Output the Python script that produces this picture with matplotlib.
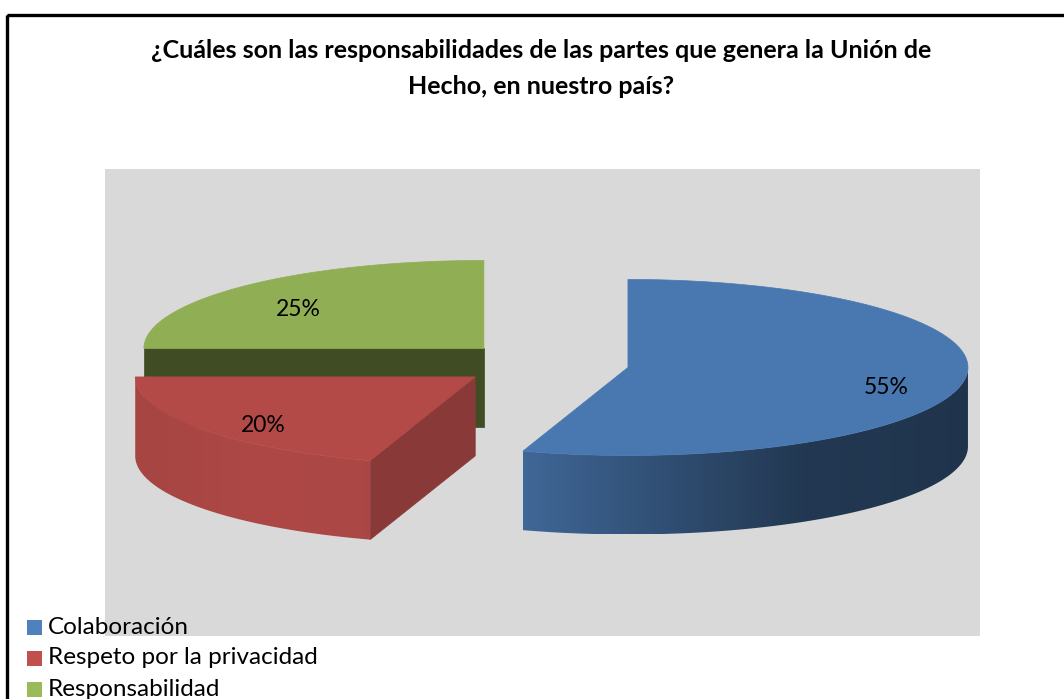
import numpy as np
import matplotlib
matplotlib.use('Agg')
import matplotlib.pyplot as plt
from matplotlib.patches import Polygon, Rectangle
import matplotlib.colors as mc

# ---------------- data ----------------
categories = ['Colaboración', 'Respeto por la privacidad', 'Responsabilidad']
values = [55, 20, 25]
labels = ['55%', '20%', '25%']
base_colors = ['#4F81BD', '#C0504D', '#9BBB59']
title = '¿Cuáles son las responsabilidades de las partes que genera la Unión de\nHecho, en nuestro país?'

plt.rcParams['font.family'] = ['Lato', 'DejaVu Sans']

W, H = 1064, 699
fig = plt.figure(figsize=(W / 100, H / 100), dpi=100)
ax = fig.add_axes([0, 0, 1, 1])
ax.axis('off')

# outer frame (extends beyond the image on right/bottom)
ax.add_patch(Rectangle((6.5, 14.5), 2000, 2000, fill=False, ec='black', lw=2.4, clip_on=False))

# plot area
ax.add_patch(Rectangle((105, 169), 875, 467, fc='#D9D9D9', ec='none'))

# title
for i, line in enumerate(title.split('\n')):
    ax.text(541, 51 + 36 * i, line, ha='center', va='center', fontsize=18, fontweight='bold', color='black')

# ---------------- 3D exploded pie geometry ----------------
cx, cy = 544, 364
a, b = 340, 88
depth = 79
explode = 0.25


def shade(color, f):
    r, g, bb = mc.to_rgb(color)
    return (r * f, g * f, bb * f)


def wall_factor(u):
    # u: horizontal position across the whole pie (-1 left .. 1 right)
    return np.interp(u, [-1, -0.69, -0.41, -0.05, 0.37, 0.6, 1.0], [0.86, 0.9, 0.89, 0.80, 0.56, 0.44, 0.40])


def radial_factor(front):
    return np.interp(front, [0.3, 1.0], [0.72, 0.41])


def P(x0, y0, th, dz=0.0):
    return (x0 + a * np.sin(th), y0 - b * np.cos(th) + dz)


total = float(sum(values))
slices = []
cum = 0.0
for i, v in enumerate(values):
    st = cum / total * 2 * np.pi
    en = (cum + v) / total * 2 * np.pi
    cum += v
    mid = (st + en) / 2
    sx = cx + explode * a * np.sin(mid)
    sy = cy - explode * b * np.cos(mid)
    slices.append(dict(i=i, st=st, en=en, mid=mid, sx=sx, sy=sy))

z = 1
for s in sorted(slices, key=lambda d: d['sy']):
    i, st, en, sx, sy = s['i'], s['st'], s['en'], s['sx'], s['sy']
    col = base_colors[i]
    # radial faces
    for th, sign in ((st, -1), (en, 1)):
        front = sign * np.sin(th)  # screen-y component of outward normal
        if front > 1e-6:
            p = P(sx, sy, th)
            poly = [(sx, sy), p, (p[0], p[1] + depth), (sx, sy + depth)]
            c = shade(col, radial_factor(front))
            ax.add_patch(Polygon(poly, closed=True, fc=c, ec=c, lw=0.5, zorder=z))
    # curved outer wall (front half only), gradient fill
    lo = max(st, np.pi / 2)
    hi = min(en, 3 * np.pi / 2)
    if hi > lo:
        ths = np.linspace(lo, hi, 200)
        top = [P(sx, sy, t) for t in ths]
        bot = [P(sx, sy, t, depth) for t in ths[::-1]]
        poly = Polygon(top + bot, closed=True, fc='none', ec='none', zorder=z)
        ax.add_patch(poly)
        xs = [p[0] for p in top]
        ys = [p[1] for p in top] + [p[1] for p in bot]
        x0, x1 = min(xs), max(xs)
        y0, y1 = min(ys), max(ys)
        ncol = 400
        xc = np.linspace(x0, x1, ncol)
        fac = wall_factor((xc - cx) / (a * (1 + explode)))
        rgb = np.array(mc.to_rgb(col))
        img = (fac[:, None] * rgb[None, :])[None, :, :]
        im = ax.imshow(img, extent=(x0, x1, y1, y0), origin='upper', aspect='auto',
                       interpolation='bilinear', zorder=z)
        im.set_clip_path(poly)
    # top face
    ths = np.linspace(st, en, 200)
    pts = [(sx, sy)] + [P(sx, sy, t) for t in ths]
    c = shade(col, 0.93)
    ax.add_patch(Polygon(pts, closed=True, fc=c, ec=c, lw=0.5, zorder=z + 0.5))
    # label
    lx = sx + 0.77 * a * np.sin(s['mid'])
    ly = sy - 0.77 * b * np.cos(s['mid']) + 9
    ax.text(lx, ly, labels[i], ha='center', va='center', fontsize=16.5, color='black', zorder=10)
    z += 1

# ---------------- legend ----------------
for i, cat in enumerate(categories):
    yy = 627 + 31 * i
    ax.add_patch(Rectangle((27, yy - 7.5), 15, 15, fc=base_colors[i], ec='none'))
    ax.text(48, yy, cat, ha='left', va='center', fontsize=17.5, color='black')

ax.set_xlim(0, W)
ax.set_ylim(H, 0)
fig.savefig('out.png', dpi=100)
